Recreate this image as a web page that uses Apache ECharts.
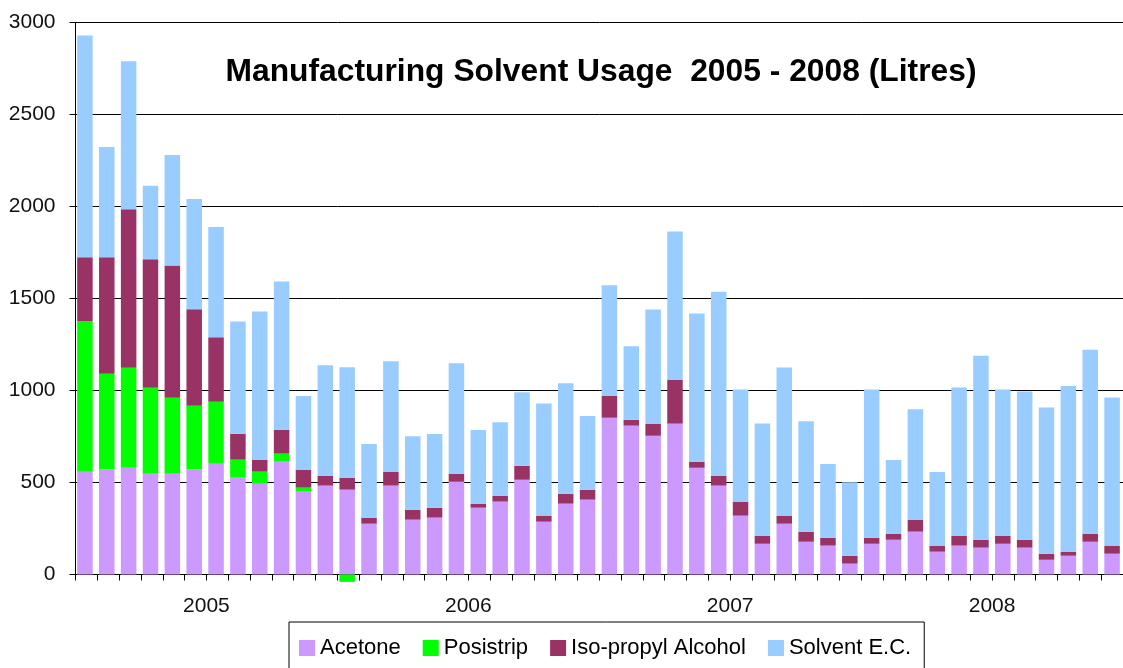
<!DOCTYPE html>
<html>
<head>
<meta charset="utf-8">
<script src="https://cdn.jsdelivr.net/npm/echarts@6/dist/echarts.min.js"></script>
<style>
  html, body { margin: 0; padding: 0; background: #fff; }
  #chart { width: 1123px; height: 668px; }
</style>
</head>
<body>
<div id="chart"></div>
<script>
const months = [
  'Jan 2005','Feb 2005','Mar 2005','Apr 2005','May 2005','Jun 2005','Jul 2005','Aug 2005','Sep 2005','Oct 2005','Nov 2005','Dec 2005',
  'Jan 2006','Feb 2006','Mar 2006','Apr 2006','May 2006','Jun 2006','Jul 2006','Aug 2006','Sep 2006','Oct 2006','Nov 2006','Dec 2006',
  'Jan 2007','Feb 2007','Mar 2007','Apr 2007','May 2007','Jun 2007','Jul 2007','Aug 2007','Sep 2007','Oct 2007','Nov 2007','Dec 2007',
  'Jan 2008','Feb 2008','Mar 2008','Apr 2008','May 2008','Jun 2008','Jul 2008','Aug 2008','Sep 2008','Oct 2008','Nov 2008','Dec 2008'
];
const years = ['2005', '2006', '2007', '2008'];
const yTicks = [0, 500, 1000, 1500, 2000, 2500, 3000];

const acetone = [
  559, 570, 580, 548, 548, 570, 602, 526, 493, 613, 450, 483,
  461, 276, 483, 298, 309, 504, 363, 396, 515, 287, 385, 407,
  852, 809, 754, 820, 580, 483, 320, 167, 276, 178, 157, 59,
  167, 189, 233, 124, 157, 146, 167, 146, 80, 102, 178, 113
];
const posistrip = [
  817, 521, 544, 467, 413, 347, 337, 98, 66, 44, 22, 0,
  -40, 0, 0, 0, 0, 0, 0, 0, 0, 0, 0, 0,
  0, 0, 0, 0, 0, 0, 0, 0, 0, 0, 0, 0,
  0, 0, 0, 0, 0, 0, 0, 0, 0, 0, 0, 0
];
const isopropyl = [
  348, 633, 861, 698, 719, 524, 350, 141, 65, 130, 98, 54,
  65, 33, 76, 54, 54, 44, 22, 32, 76, 33, 54, 54,
  120, 32, 66, 239, 33, 54, 76, 44, 44, 55, 43, 43,
  33, 33, 65, 33, 54, 43, 44, 43, 33, 22, 44, 44
];
const solventEC = [
  1205, 600, 805, 400, 600, 600, 600, 610, 805, 805, 400, 600,
  600, 400, 600, 400, 400, 600, 400, 400, 400, 610, 600, 400,
  600, 400, 620, 805, 805, 1000, 610, 610, 805, 600, 400, 400,
  805, 400, 600, 400, 805, 1000, 795, 805, 795, 900, 1000, 805
];

const FONT = 'Liberation Sans, Arial, Helvetica, sans-serif';
const chart = echarts.init(document.getElementById('chart'), null, { renderer: 'canvas' });

function barSeries(name, data, color) {
  return {
    name: name,
    type: 'bar',
    stack: 'total',
    xAxisIndex: 2,
    yAxisIndex: 1,
    data: data,
    barWidth: 15.5,
    clip: false,
    itemStyle: { color: color },
    emphasis: { disabled: true }
  };
}

chart.setOption({
  animation: false,
  backgroundColor: '#ffffff',
  title: {
    text: 'Manufacturing Solvent Usage  2005 - 2008 (Litres)',
    left: 596,
    top: 51,
    textAlign: 'center',
    textStyle: { fontFamily: FONT, fontSize: 31.8, fontWeight: 'bold', color: '#000' }
  },
  legend: {
    data: ['Acetone', 'Posistrip', 'Iso-propyl Alcohol', 'Solvent E.C.'],
    left: 289,
    top: 622,
    padding: [15, 13, 13, 10],
    itemGap: 22,
    itemWidth: 16,
    itemHeight: 16,
    icon: 'rect',
    borderColor: '#000',
    borderWidth: 1,
    textStyle: { fontFamily: FONT, fontSize: 22, color: '#000' }
  },
  grid: [
    { left: 75.5, right: -8.5, top: 22.5, bottom: 93.5 },
    { left: 74, right: -7, top: 22.5, bottom: 93.5 }
  ],
  xAxis: [
    {
      type: 'category', gridIndex: 0, data: months,
      axisLine: { lineStyle: { color: '#000', width: 1 } },
      axisTick: { show: true, interval: 0, length: 6, lineStyle: { color: '#000' } },
      axisLabel: { show: false, interval: 0 },
      splitLine: { show: false }
    },
    {
      type: 'category', gridIndex: 0, data: years, position: 'bottom',
      axisLine: { show: false },
      axisTick: { show: false },
      axisLabel: { interval: 0, margin: 21, fontFamily: FONT, fontSize: 21, color: '#111' },
      splitLine: { show: false }
    },
    {
      type: 'category', gridIndex: 1, data: months, show: false
    }
  ],
  yAxis: [
    {
      type: 'value', gridIndex: 0, min: yTicks[0], max: yTicks[yTicks.length - 1], interval: 500,
      axisLine: { show: true, lineStyle: { color: '#000' } },
      axisTick: { show: true, length: 6, lineStyle: { color: '#000' } },
      axisLabel: { margin: 20, fontFamily: FONT, fontSize: 21, color: '#111', formatter: function (v) { return String(v); } },
      splitLine: { show: true, lineStyle: { color: '#000', width: 1 } }
    },
    {
      type: 'value', gridIndex: 1, min: yTicks[0], max: yTicks[yTicks.length - 1], interval: 500, show: false,
      splitLine: { show: false }
    }
  ],
  series: [
    barSeries('Acetone', acetone, '#CC99FF'),
    barSeries('Posistrip', posistrip, '#00FF00'),
    barSeries('Iso-propyl Alcohol', isopropyl, '#993366'),
    barSeries('Solvent E.C.', solventEC, '#99CCFF')
  ]
});
</script>
</body>
</html>
